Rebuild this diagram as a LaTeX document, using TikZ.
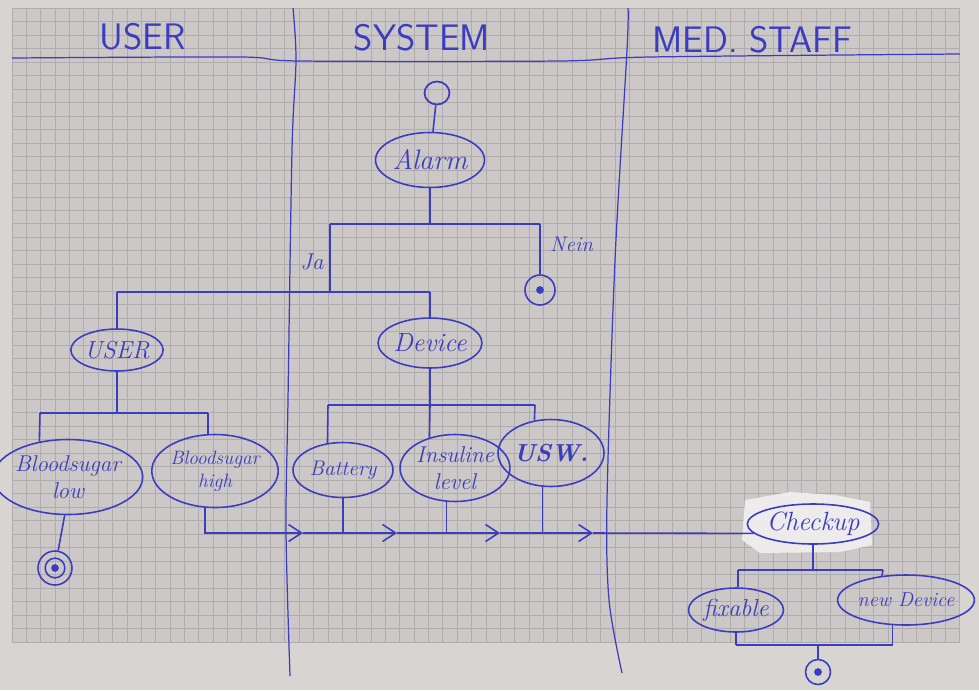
\documentclass[tikz,border=0pt]{standalone}
\usepackage{tikz}
\usetikzlibrary{arrows.meta,positioning,calc,shapes.geometric}
\definecolor{cInk}{HTML}{3A3DBE}
\definecolor{cPaper}{HTML}{CDC8C8}
\definecolor{cGrid}{HTML}{B0ABAC}
\definecolor{cEdge}{HTML}{D7D4D2}
\definecolor{cPatch}{HTML}{EDEBEB}
\tikzset{
  act/.style={ellipse,draw=cInk,line width=.9pt,inner sep=0pt,align=center,
              text=cInk},
  hw/.style={font=\itshape\fontsize{#1}{#1}\selectfont\setlength{\baselineskip}{1.2\baselineskip}},
  initnode/.style={ellipse,draw=cInk,line width=1pt,inner sep=0pt,
              minimum width=.5cm,minimum height=.46cm},
  finalnode/.style={circle,draw=cInk,line width=.9pt,inner sep=0pt,
              path picture={\fill[cInk] (path picture bounding box.center) circle (2.2pt);}},
  finalring/.style={circle,draw=cInk,line width=.9pt,inner sep=0pt,
              path picture={\draw[cInk,line width=.9pt] (path picture bounding box.center) circle (5.6pt);
                            \fill[cInk] (path picture bounding box.center) circle (2.2pt);}},
  flow/.style={draw=cInk,line width=.9pt},
  lane/.style={draw=cInk,line width=.7pt},
  fwd/.style={flow,-{Straight Barb[length=2.6mm,width=3.4mm]}},
  lanehead/.style={text=cInk,font=\sffamily\fontsize{21}{21}\selectfont},
  guard/.style={text=cInk,font=\itshape\fontsize{#1}{#1}\selectfont},
}

\begin{document}
\begin{tikzpicture}[x=0.02cm,y=-0.02cm]
  \useasboundingbox (0,0) rectangle (979,690);
  % paper and squares
  \fill[cEdge] (0,0) rectangle (979,690);
  \fill[cPaper] (12,8) rectangle (960,642);
  \foreach \i in {0,...,66}{
    \draw[cGrid,line width=.4pt] ({12+\i*14.36},8) -- ({12+\i*14.36},642);
  }
  \foreach \j in {0,...,47}{
    \draw[cGrid,line width=.4pt] (12,{8+\j*13.49}) -- (960,{8+\j*13.49});
  }
  % swim lanes
  \draw[lane] plot[smooth] coordinates {(12,58) (240,57) (300,61) (560,61) (650,57) (960,54)};
  \draw[lane] plot[smooth] coordinates {(293,8) (296,60) (292,150) (288,400) (286,530) (290,676)};
  \draw[lane] plot[smooth] coordinates {(628,8) (627,50) (615,260) (607,500) (609,600) (622,673)};
  \node[lanehead] (hUser) at (143,37) {USER};
  \node[lanehead] (hSystem) at (422,38) {SYSTEM};
  \node[lanehead] (hStaff) at (752,40) {MED. STAFF};
  % pasted label behind the checkup
  \fill[cPatch] (745,500) -- (790,492) -- (835,495) -- (870,502) -- (872,545)
    -- (840,552) -- (760,553) -- (742,540) -- cycle;

  % nodes
  \node[initnode] (init) at (437,93) {};
  \node[act,hw=16,minimum width=2.18cm,minimum height=1.1cm] (alarm) at (430,160) {Alarm};
  \node[finalnode,minimum size=.6cm] (endNein) at (540,290) {};
  \node[act,hw=14,minimum width=1.8cm,minimum height=.84cm] (user) at (117,350) {USER};
  \node[act,hw=15,minimum width=1.8cm,minimum height=1cm] (device) at (430,343) {Device};
  \node[act,hw=13,minimum width=2.62cm,minimum height=1.5cm] (bslow) at (68,477) {Bloodsugar\\low};
  \node[act,hw=11,minimum width=2.08cm,minimum height=1.46cm] (bshigh) at (215,471) {Bloodsugar\\high};
  \node[finalring,minimum size=.68cm] (lowEnd) at (55,568) {};
  \node[act,hw=12,minimum width=2cm,minimum height=1.1cm] (battery) at (343,470) {Battery};
  \node[act,hw=13,minimum width=2.12cm,minimum height=1.34cm] (insulin) at (455,468) {Insuline\\level};
  \node[act,hw=14,minimum width=1.64cm,minimum height=1.34cm] (usw) at (551,453) {\bfseries USW.};
  \node[act,hw=15,minimum width=2.4cm,minimum height=.8cm] (checkup) at (813,524) {Checkup};
  \node[act,hw=14,minimum width=1.9cm,minimum height=.88cm] (fixable) at (736,610) {fixable};
  \node[act,hw=11.5,minimum width=2.44cm,minimum height=1cm] (newdev) at (906,600) {new Device};
  \node[finalnode,minimum size=.5cm] (finalEnd) at (818,672) {};

  % branch points
  \coordinate (aM) at (430,224);
  \coordinate (aL) at (330,224);
  \coordinate (aR) at (540,224);
  \coordinate (bJ) at (330,292);
  \coordinate (bL) at (117,292);
  \coordinate (bR) at (430,292);
  \coordinate (cM) at (117,413);
  \coordinate (cL) at (40,413);
  \coordinate (cR) at (208,413);
  \coordinate (dM) at (430,405);
  \coordinate (dL) at (328,405);
  \coordinate (dR) at (535,405);
  \coordinate (f1) at (303,533);
  \coordinate (f2) at (397,533);
  \coordinate (f3) at (500,533);
  \coordinate (f4) at (593,533);
  \coordinate (eM) at (813,570);
  \coordinate (eL) at (738,570);
  \coordinate (eR) at (883,570);
  \coordinate (gL) at (736,645);
  \coordinate (gM) at (818,645);
  \coordinate (gR) at (893,645);

  % alarm decision
  \draw[flow] (init) -- (alarm);
  \draw[flow] (alarm) -- (aM);
  \draw[flow] (aL) -- (aR);
  \draw[flow] (aL) -- (bJ);
  \draw[flow] (aR) -- (endNein);
  \node[guard=13] (ja) at (312,262) {Ja};
  \node[guard=12,anchor=west] (nein) at (544,244) {Nein};
  % user side
  \draw[flow] (bL) -- (bR);
  \draw[flow] (bL) -- (user);
  \draw[flow] (bR) -- (device);
  \draw[flow] (user) -- (cM);
  \draw[flow] (cL) -- (cR);
  \draw[flow] (cL) -- (bslow.129.5);
  \draw[flow] (cR) -- (cR |- bshigh.north);
  \draw[flow] (bslow.265) -- (lowEnd);
  % device side
  \draw[flow] (device) -- (dM);
  \draw[flow] (dL) -- (dR);
  \draw[flow] (dL) -- (battery.120);
  \draw[flow] (dM) -- (insulin.130);
  \draw[flow] (dR) -- (usw.117.5);
  % to the staff
  \draw[fwd] (bshigh.255) |- (f1);
  \draw[fwd] (f1) -- (f2);
  \draw[fwd] (f2) -- (f3);
  \draw[fwd] (f3) -- (f4);
  \draw[flow] (f4) -- (checkup.189.5);
  \draw[flow] (battery) -- (battery |- f1);
  \draw[flow] (insulin.256) -- (insulin.256 |- f1);
  \draw[flow] (usw.256) -- (usw.256 |- f1);
  % checkup
  \draw[flow] (checkup) -- (eM);
  \draw[flow] (eL) -- (eR);
  \draw[flow] (eL) -- (eL |- fixable.north);
  \draw[flow] (eR) -- (newdev.135);
  \draw[flow] (fixable) -- (gL);
  \draw[flow] (newdev.242) -- (newdev.242 |- gR);
  \draw[flow] (gL) -- (gR);
  \draw[flow] (gM) -- (finalEnd);
\end{tikzpicture}
\end{document}
